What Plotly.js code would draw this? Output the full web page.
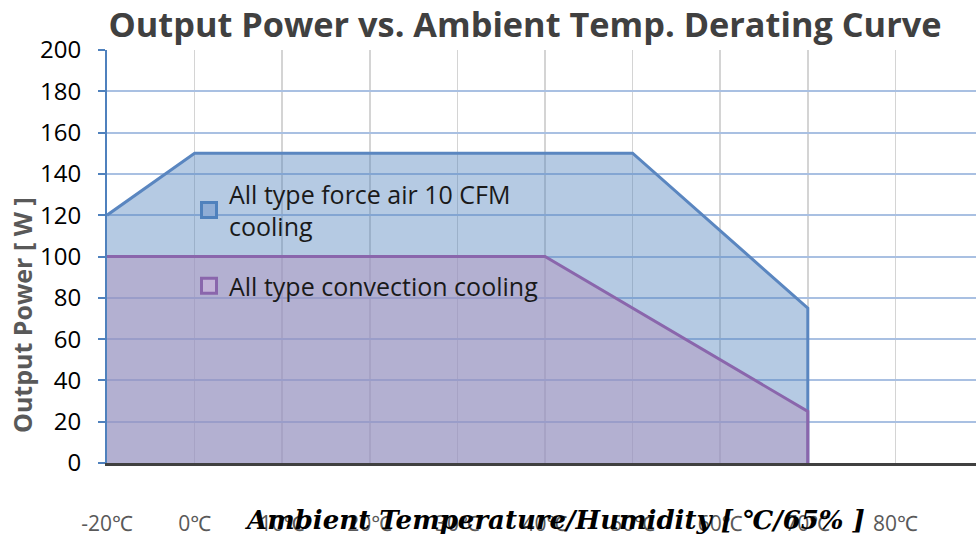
<!DOCTYPE html>
<html>
<head>
<meta charset="utf-8">
<script src="https://cdn.plot.ly/plotly-3.0.1.min.js"></script>
<style>html,body{margin:0;padding:0;background:#fff;}#chart{width:976px;height:537px;}</style>
</head>
<body>
<div id="chart"></div>
<script>
// Category axis labels
const categories = ["-20℃", "0℃", "10℃", "20℃", "30℃", "40℃", "50℃", "60℃", "70℃", "80℃"];

// Series: forced air 10 CFM
const forceName = "All type force air 10 CFM<br>cooling";
const forceX = ["-20℃", "0℃", "50℃", "70℃", "70℃"];
const forceY = [120, 150, 150, 75, 0];

// Series: convection cooling
const convName = "All type convection cooling";
const convX = ["-20℃", "40℃", "70℃", "70℃"];
const convY = [100, 100, 25, 0];

const yTicks = [0, 20, 40, 60, 80, 100, 120, 140, 160, 180, 200];

const SANS = "'Open Sans', 'Noto Sans', sans-serif";

const traces = [
  {
    type: "scatter", mode: "lines", name: forceName,
    x: forceX, y: forceY, fill: "tozeroy",
    fillcolor: "rgba(79,129,189,0.42)",
    line: {color: "#5a86c0", width: 3},
    showlegend: false
  },
  {
    type: "scatter", mode: "lines", name: convName,
    x: convX, y: convY, fill: "tozeroy",
    fillcolor: "rgba(177,149,191,0.5)",
    line: {color: "#8a66ac", width: 3},
    showlegend: false
  },
  // legend entries (square swatches like the reference)
  {
    type: "scatter", mode: "markers", name: forceName,
    x: [null], y: [null],
    marker: {symbol: "square", size: 15, color: "#8fadd6", line: {color: "#4f81bd", width: 3}},
    legendgroup: "a"
  },
  {
    type: "scatter", mode: "markers", name: convName,
    x: [null], y: [null],
    marker: {symbol: "square", size: 15, color: "#c3b3d8", line: {color: "#8a66ac", width: 3}},
    legendgroup: "b"
  }
];

const layout = {
  width: 976, height: 537,
  margin: {l: 107, r: 0, t: 50, b: 74},
  paper_bgcolor: "#ffffff", plot_bgcolor: "#ffffff",
  showlegend: true,
  hovermode: false,
  title: {
    text: "Output Power vs. Ambient Temp. Derating Curve",
    font: {family: SANS, size: 34.3, color: "#404040", weight: "bold"},
    x: 0.481, xref: "paper", xanchor: "center",
    y: 1 - 25 / 537, yref: "container", yanchor: "middle"
  },
  xaxis: {
    type: "category",
    categoryorder: "array", categoryarray: categories,
    tickvals: categories, ticktext: categories,
    range: [0, 9.92],
    showgrid: true, gridcolor: "#d4d4d4", gridwidth: 1.5,
    showline: true, linecolor: "#404040", linewidth: 3,
    ticks: "", zeroline: false,
    tickfont: {family: SANS, size: 21, color: "#595959"},
    ticklabelstandoff: 40
  },
  yaxis: {
    range: [0, 200], tickvals: yTicks,
    showgrid: true, gridcolor: "#a9c0e2", gridwidth: 2,
    showline: true, linecolor: "#4f81bd", linewidth: 2,
    ticks: "outside", ticklen: 7, tickcolor: "#4f81bd", tickwidth: 2,
    zeroline: false,
    tickfont: {family: SANS, size: 24, color: "#000000"},
    ticklabelstandoff: 12
  },
  legend: {
    x: (189 - 107) / 869, y: (463 - 171) / 413, xanchor: "left", yanchor: "top",
    bgcolor: "rgba(0,0,0,0)",
    font: {family: SANS, size: 25, color: "#1a1a1a"},
    tracegroupgap: 24,
    traceorder: "grouped"
  },
  annotations: [
    {
      text: "Output Power [ W ]", textangle: -90,
      xref: "paper", yref: "paper", x: (22 - 107) / 869, y: (463 - 315) / 413,
      xanchor: "center", yanchor: "middle", showarrow: false,
      font: {family: SANS, size: 25, color: "#595959", weight: "bold"}
    },
    {
      text: "<b><i>Ambient Temperature/Humidity [ ℃/65% ]</i></b>",
      xref: "paper", yref: "paper", x: (554 - 107) / 869, y: (463 - 520) / 413,
      xanchor: "center", yanchor: "middle", showarrow: false,
      font: {family: "'DejaVu Serif', 'Liberation Serif', serif", size: 26, color: "#000000"}
    }
  ]
};

Plotly.newPlot("chart", traces, layout, {displayModeBar: false, staticPlot: true});
</script>
</body>
</html>
